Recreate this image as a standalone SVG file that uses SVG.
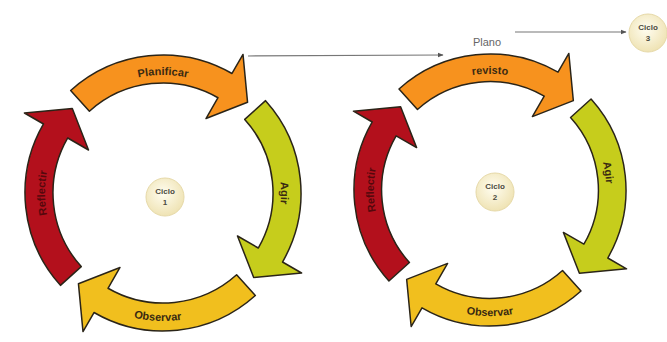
<svg xmlns="http://www.w3.org/2000/svg" width="667" height="342" viewBox="0 0 667 342">
<style>
.arw{stroke:#2a2418;stroke-width:1.5;stroke-linejoin:round}
.orange{fill:#f7921e}
.green{fill:#c6cd1c}
.yellow{fill:#f1bf1e}
.red{fill:#b3101c}
.lbl{font-family:"Liberation Sans",Arial,sans-serif;font-size:11px;font-weight:bold;fill:#3a2a12}
.lblr{font-family:"Liberation Sans",Arial,sans-serif;font-size:11px;font-weight:bold;fill:#55080c}
.cyc{fill:url(#cg);stroke:#e6d9a8;stroke-width:1}
.ct{font-family:"Liberation Sans",Arial,sans-serif;font-size:8px;font-weight:bold;fill:#4a4a40;text-anchor:middle}
.conn{stroke:#777;stroke-width:1.2;fill:none}
.pl{font-family:"Liberation Sans",Arial,sans-serif;font-size:11px;fill:#666;text-anchor:middle}
</style>
<defs>
<radialGradient id="cg" cx="45%" cy="40%" r="60%">
<stop offset="0" stop-color="#fffdf0"/>
<stop offset="1" stop-color="#efe3b4"/>
</radialGradient>
<marker id="ah" viewBox="0 0 10 10" refX="9" refY="5" markerWidth="6" markerHeight="6" orient="auto" markerUnits="userSpaceOnUse">
<path d="M0,1 L10,5 L0,9 Z" fill="#555"/>
</marker>
<path id="arrow" d="M138,0 A138,138 0 0 1 42.64,131.25 L49.44,152.17 L10.81,123.53 L26.58,81.79 L33.99,104.62 A110,110 0 0 0 110,0 Z"/>
<path id="tTop" d="M-102.19,-59 A118,118 0 0 1 102.19,-59"/>
<path id="tRight" d="M59,-102.19 A118,118 0 0 1 59,102.19"/>
<path id="tBottom" d="M-110.85,64 A128,128 0 0 0 110.85,64"/>
<path id="tLeft" d="M-59,102.19 A118,118 0 0 1 -59,-102.19"/>
</defs>
<rect width="667" height="342" fill="#ffffff"/>

<g id="cycle1" transform="translate(163,193)">
<use href="#arrow" class="arw orange" transform="rotate(228)"/>
<use href="#arrow" class="arw green" transform="rotate(318)"/>
<use href="#arrow" class="arw yellow" transform="rotate(48)"/>
<use href="#arrow" class="arw red" transform="rotate(138)"/>
<text class="lbl" text-anchor="middle"><textPath href="#tTop" startOffset="50%">Planificar</textPath></text>
<text class="lbl" text-anchor="middle"><textPath href="#tRight" startOffset="50%">Agir</textPath></text>
<text class="lbl" text-anchor="middle"><textPath href="#tBottom" startOffset="48%">Observar</textPath></text>
<text class="lblr" text-anchor="middle"><textPath href="#tLeft" startOffset="50%">Reflectir</textPath></text>
</g>

<g id="cycle2" transform="translate(490,190) scale(0.9855)">
<use href="#arrow" class="arw orange" transform="rotate(228)"/>
<use href="#arrow" class="arw green" transform="rotate(318)"/>
<use href="#arrow" class="arw yellow" transform="rotate(48)"/>
<use href="#arrow" class="arw red" transform="rotate(138)"/>
<text class="lbl" text-anchor="middle"><textPath href="#tTop" startOffset="50%">revisto</textPath></text>
<text class="lbl" text-anchor="middle"><textPath href="#tRight" startOffset="43%">Agir</textPath></text>
<text class="lbl" text-anchor="middle"><textPath href="#tBottom" startOffset="50%">Observar</textPath></text>
<text class="lblr" text-anchor="middle"><textPath href="#tLeft" startOffset="50%">Reflectir</textPath></text>
</g>

<g id="ciclo1">
<circle class="cyc" cx="165" cy="197" r="19"/>
<text class="ct" x="165" y="194">Ciclo</text>
<text class="ct" x="165" y="205">1</text>
</g>
<g id="ciclo2">
<circle class="cyc" cx="495" cy="192" r="19"/>
<text class="ct" x="495" y="189">Ciclo</text>
<text class="ct" x="495" y="200">2</text>
</g>
<g id="ciclo3">
<circle class="cyc" cx="648" cy="33" r="19"/>
<text class="ct" x="648" y="30">Ciclo</text>
<text class="ct" x="648" y="41">3</text>
</g>

<g id="connectors">
<line class="conn" x1="248" y1="56" x2="443" y2="55" marker-end="url(#ah)"/>
<line class="conn" x1="515" y1="32" x2="626" y2="32" marker-end="url(#ah)"/>
<text class="pl" x="487" y="46">Plano</text>
</g>
</svg>
